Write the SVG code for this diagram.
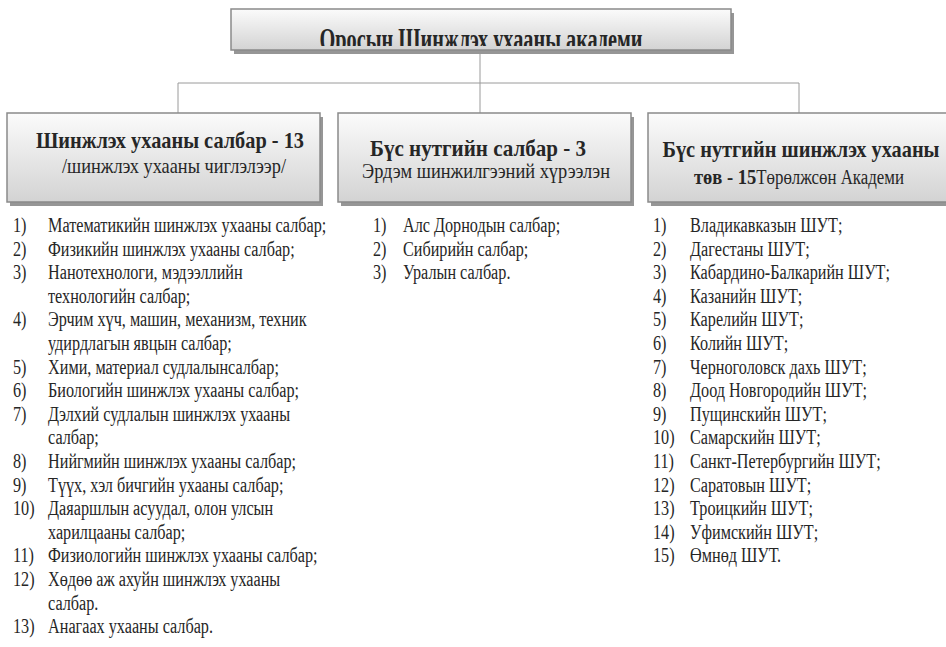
<svg xmlns="http://www.w3.org/2000/svg" width="946" height="647" viewBox="0 0 946 647">
<defs>
<linearGradient id="boxg" x1="0" y1="0" x2="0" y2="1">
<stop offset="0" stop-color="#fbfbfb"/>
<stop offset="1" stop-color="#d3d3d3"/>
</linearGradient>
<clipPath id="topclip"><rect x="231" y="9" width="500" height="37"/></clipPath>
</defs>
<style>
.box{fill:url(#boxg);stroke:#8a8a8a;stroke-width:1.5}
.shadow{fill:#969696}
.conn{stroke:#9a9a9a;stroke-width:1;fill:none}
.t{font-family:"Liberation Serif","Times New Roman",serif;fill:#262626}
.b{font-weight:bold}
.li{font-family:"Liberation Serif","Times New Roman",serif;font-size:20px;fill:#262626}
</style>
<rect width="946" height="647" fill="#ffffff"/>
<g id="connectors">
<line class="conn" x1="480" y1="50" x2="480" y2="83"/>
<line class="conn" x1="178" y1="83" x2="799" y2="83"/>
<line class="conn" x1="178" y1="83" x2="178" y2="113"/>
<line class="conn" x1="480" y1="83" x2="480" y2="113"/>
<line class="conn" x1="799" y1="83" x2="799" y2="113"/>
</g>
<g id="root">
<rect class="shadow" x="234" y="13" width="500" height="41"/>
<rect class="box" x="231" y="9" width="500" height="41"/>
<text class="t b" x="481" y="50" font-size="32" text-anchor="middle" textLength="323" lengthAdjust="spacingAndGlyphs" clip-path="url(#topclip)">Оросын Шинжлэх ухааны академи</text>
</g>
<g id="branch1">
<rect class="shadow" x="10" y="117" width="313" height="89"/>
<rect class="box" x="7" y="113" width="313" height="89"/>
<text class="t b" x="170" y="148" font-size="24" text-anchor="middle" textLength="268" lengthAdjust="spacingAndGlyphs">Шинжлэх ухааны салбар - 13</text>
<text class="t" x="174" y="173" font-size="22" text-anchor="middle" textLength="224" lengthAdjust="spacingAndGlyphs">/шинжлэх ухааны чиглэлээр/</text>
</g>
<g id="branch2">
<rect class="shadow" x="341" y="117" width="293" height="89"/>
<rect class="box" x="338" y="113" width="293" height="89"/>
<text class="t b" x="478" y="156" font-size="24" text-anchor="middle" textLength="216" lengthAdjust="spacingAndGlyphs">Бүс нутгийн салбар - 3</text>
<text class="t" x="486" y="178" font-size="20" text-anchor="middle" textLength="248" lengthAdjust="spacingAndGlyphs">Эрдэм шинжилгээний хүрээлэн</text>
</g>
<g id="branch3">
<rect class="shadow" x="651" y="117" width="310" height="89"/>
<rect class="box" x="648" y="113" width="310" height="89"/>
<text class="t b" x="801" y="157" font-size="24" text-anchor="middle" textLength="277" lengthAdjust="spacingAndGlyphs">Бүс нутгийн шинжлэх ухааны</text>
<text class="t" x="694" y="184" font-size="20" textLength="210" lengthAdjust="spacingAndGlyphs"><tspan class="b" font-size="22">төв - 15</tspan>Төрөлжсөн Академи</text>
</g>
<g id="list1" transform="scale(0.81,1)">
<text class="li" x="16" y="232">1)</text><text class="li" x="59.3" y="232">Математикийн шинжлэх ухааны салбар;</text>
<text class="li" x="16" y="255.6">2)</text><text class="li" x="59.3" y="255.6">Физикийн шинжлэх ухааны салбар;</text>
<text class="li" x="16" y="279.2">3)</text><text class="li" x="59.3" y="279.2">Нанотехнологи, мэдээллийн</text>
<text class="li" x="59.3" y="302.8">технологийн салбар;</text>
<text class="li" x="16" y="326.4">4)</text><text class="li" x="59.3" y="326.4">Эрчим хүч, машин, механизм, техник</text>
<text class="li" x="59.3" y="350">удирдлагын явцын салбар;</text>
<text class="li" x="16" y="373.6">5)</text><text class="li" x="59.3" y="373.6">Хими, материал судлалынсалбар;</text>
<text class="li" x="16" y="397.2">6)</text><text class="li" x="59.3" y="397.2">Биологийн шинжлэх ухааны салбар;</text>
<text class="li" x="16" y="420.8">7)</text><text class="li" x="59.3" y="420.8">Дэлхий судлалын шинжлэх ухааны</text>
<text class="li" x="59.3" y="444.4">салбар;</text>
<text class="li" x="16" y="468">8)</text><text class="li" x="59.3" y="468">Нийгмийн шинжлэх ухааны салбар;</text>
<text class="li" x="16" y="491.6">9)</text><text class="li" x="59.3" y="491.6">Түүх, хэл бичгийн ухааны салбар;</text>
<text class="li" x="16" y="515.2">10)</text><text class="li" x="59.3" y="515.2">Даяаршлын асуудал, олон улсын</text>
<text class="li" x="59.3" y="538.8">харилцааны салбар;</text>
<text class="li" x="16" y="562.4">11)</text><text class="li" x="59.3" y="562.4">Физиологийн шинжлэх ухааны салбар;</text>
<text class="li" x="16" y="586">12)</text><text class="li" x="59.3" y="586">Хөдөө аж ахуйн шинжлэх ухааны</text>
<text class="li" x="59.3" y="609.6">салбар.</text>
<text class="li" x="16" y="633.2">13)</text><text class="li" x="59.3" y="633.2">Анагаах ухааны салбар.</text>
</g>
<g id="list2" transform="scale(0.81,1)">
<text class="li" x="460.5" y="232">1)</text><text class="li" x="497.5" y="232">Алс Дорнодын салбар;</text>
<text class="li" x="460.5" y="255.6">2)</text><text class="li" x="497.5" y="255.6">Сибирийн салбар;</text>
<text class="li" x="460.5" y="279.2">3)</text><text class="li" x="497.5" y="279.2">Уралын салбар.</text>
</g>
<g id="list3" transform="scale(0.81,1)">
<text class="li" x="806.2" y="232">1)</text><text class="li" x="851.9" y="232">Владикавказын ШУТ;</text>
<text class="li" x="806.2" y="255.6">2)</text><text class="li" x="851.9" y="255.6">Дагестаны ШУТ;</text>
<text class="li" x="806.2" y="279.2">3)</text><text class="li" x="851.9" y="279.2">Кабардино-Балкарийн ШУТ;</text>
<text class="li" x="806.2" y="302.8">4)</text><text class="li" x="851.9" y="302.8">Казанийн ШУТ;</text>
<text class="li" x="806.2" y="326.4">5)</text><text class="li" x="851.9" y="326.4">Карелийн ШУТ;</text>
<text class="li" x="806.2" y="350">6)</text><text class="li" x="851.9" y="350">Колийн ШУТ;</text>
<text class="li" x="806.2" y="373.6">7)</text><text class="li" x="851.9" y="373.6">Черноголовск дахь ШУТ;</text>
<text class="li" x="806.2" y="397.2">8)</text><text class="li" x="851.9" y="397.2">Доод Новгородийн ШУТ;</text>
<text class="li" x="806.2" y="420.8">9)</text><text class="li" x="851.9" y="420.8">Пущинскийн ШУТ;</text>
<text class="li" x="806.2" y="444.4">10)</text><text class="li" x="851.9" y="444.4">Самарскийн ШУТ;</text>
<text class="li" x="806.2" y="468">11)</text><text class="li" x="851.9" y="468">Санкт-Петербургийн ШУТ;</text>
<text class="li" x="806.2" y="491.6">12)</text><text class="li" x="851.9" y="491.6">Саратовын ШУТ;</text>
<text class="li" x="806.2" y="515.2">13)</text><text class="li" x="851.9" y="515.2">Троицкийн ШУТ;</text>
<text class="li" x="806.2" y="538.8">14)</text><text class="li" x="851.9" y="538.8">Уфимскийн ШУТ;</text>
<text class="li" x="806.2" y="562.4">15)</text><text class="li" x="851.9" y="562.4">Өмнөд ШУТ.</text>
</g>
</svg>
